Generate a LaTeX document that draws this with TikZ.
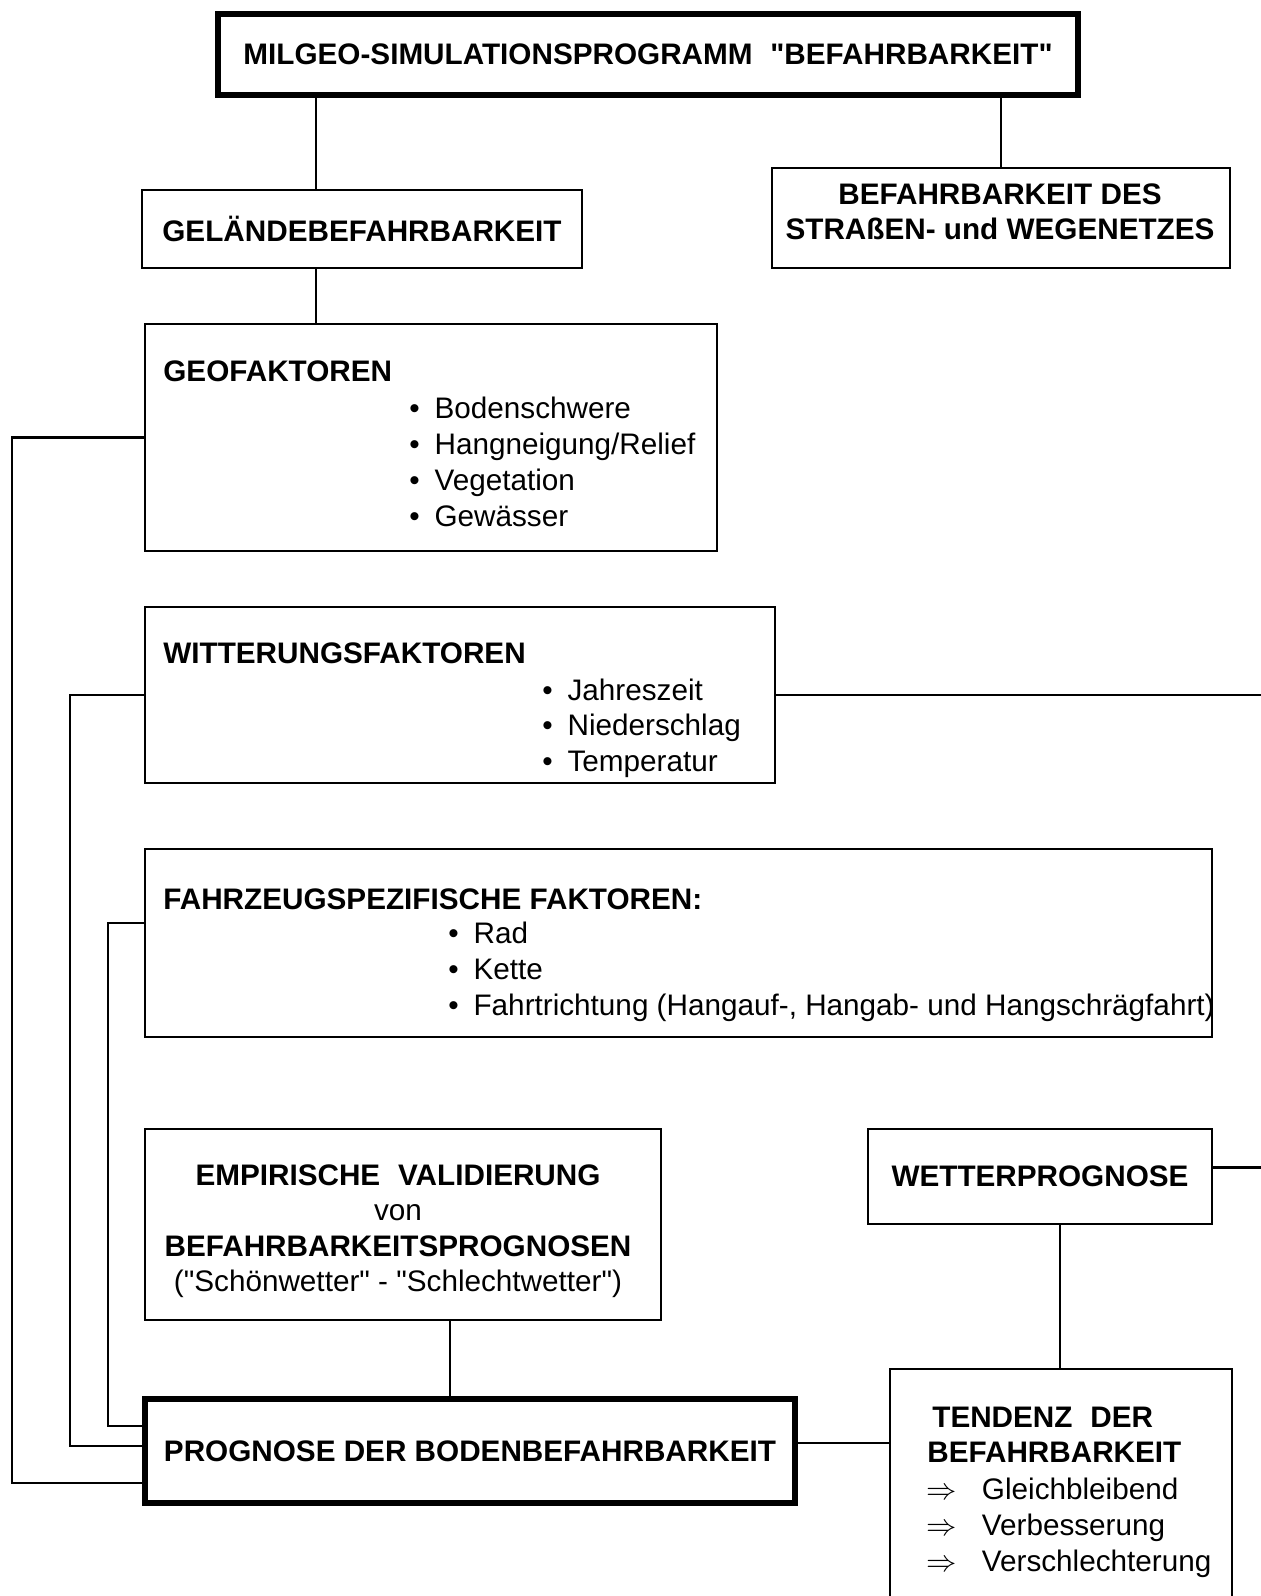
\documentclass[tikz,border=0pt]{standalone}
\usepackage{fontspec}
\setmainfont{Liberation Sans}[Ligatures=TeXOff]
\usetikzlibrary{positioning, calc}

\tikzset{
  box/.style={draw, line width=1.5pt, inner sep=0pt, align=center},
  boldbox/.style={box, line width=3.2pt},
  link/.style={line width=1.4pt},
  item/.style={anchor=base west, inner sep=0pt},
  boxtext/.style={inner sep=0pt, align=center},
}

\begin{document}
\begin{tikzpicture}[x=0.02cm, y=-0.02cm, font=\fontsize{16.9}{20.2}\selectfont]
    \useasboundingbox (0,0) rectangle (1261,1596);
    % boxes
    \node[boldbox, minimum width=17.2cm, minimum height=1.62cm] (top) at (648,54.5)
        {\bfseries MILGEO-SIMULATIONSPROGRAMM\hspace{0.6em}"BEFAHRBARKEIT"};
    \node[box, minimum width=8.8cm, minimum height=1.56cm] (gel) at (362,229)
        {\bfseries GELÄNDEBEFAHRBARKEIT};
    \node[box, minimum width=9.16cm, minimum height=2cm] (str) at (1001,218) {};
    \node[box, minimum width=11.44cm, minimum height=4.54cm] (geo) at (431,437.5) {};
    \node[box, minimum width=12.6cm, minimum height=3.52cm] (witt) at (460,695) {};
    \node[box, minimum width=21.34cm, minimum height=3.76cm] (fahr) at (678.5,943) {};
    \node[box, minimum width=10.32cm, minimum height=3.82cm] (emp) at (403,1224.5) {};
    \node[box, minimum width=6.88cm, minimum height=1.9cm] (wet) at (1040,1176.5)
        {\bfseries WETTERPROGNOSE};
    \node[boldbox, minimum width=13cm, minimum height=2.08cm] (prog) at (470,1451)
        {\bfseries PROGNOSE DER BODENBEFAHRBARKEIT};
    \node[box, minimum width=6.84cm, minimum height=5.42cm] (tend) at (1061,1504.5) {};

    % texts in the boxes
    \node[boxtext] (strT) at (1000,212)
        {\bfseries BEFAHRBARKEIT DES\\ \bfseries STRAßEN- und WEGENETZES};
    \node[boxtext] (empT) at (398,1231)
        {\bfseries EMPIRISCHE\hspace{0.6em}VALIDIERUNG\\ von\\ \bfseries BEFAHRBARKEITSPROGNOSEN\\ ("Schönwetter" - "Schlechtwetter")};
    \node[item] (geoT) at (163,381) {\bfseries GEOFAKTOREN};
    \foreach \t [count=\i] in {Bodenschwere, Hangneigung/Relief, Vegetation, Gewässer}
        \node[item] (geo\i) at (409,418+36*\i-36) {\textbullet\hspace{0.5em}\t};
    \node[item] (wittT) at (163,663) {\bfseries WITTERUNGSFAKTOREN};
    \foreach \t [count=\i] in {Jahreszeit, Niederschlag, Temperatur}
        \node[item] (witt\i) at (542,700+35.5*\i-35.5) {\textbullet\hspace{0.5em}\t};
    \node[item] (fahrT) at (163,909) {\bfseries FAHRZEUGSPEZIFISCHE FAKTOREN:};
    \foreach \t [count=\i] in {Rad, Kette, {Fahrtrichtung (Hangauf-, Hangab- und Hangschrägfahrt)}}
        \node[item] (fahr\i) at (448,943+36*\i-36) {\textbullet\hspace{0.5em}\t};
    \node[item] (tendT) at (932,1427) {\bfseries TENDENZ\hspace{0.6em}DER};
    \node[item] (tendU) at (927,1462) {\bfseries BEFAHRBARKEIT};
    \foreach \t [count=\i] in {Gleichbleibend, Verbesserung, Verschlechterung}
        \node[item] (tend\i) at (926,1499+36*\i-36) {$\Rightarrow$\hspace{0.85em}\t};

    % connectors
    \coordinate (xa) at (316,0);
    \coordinate (xb) at (1060,0);
    \coordinate (xc) at (450,0);
    \coordinate (la) at (12,0);
    \coordinate (lb) at (70,0);
    \coordinate (lc) at (108,0);
    \coordinate (edge) at (1275,0);
    \draw[link] (top.south -| xa) -- (gel.north -| xa);
    \draw[link] (top.south -| str.north) -- (str.north);
    \draw[link] (gel.south -| xa) -- (geo.north -| xa);
    \draw[link] (witt.east) -- (witt.east -| edge);
    \coordinate (wetout) at ($(wet.east)+(0,-9)$);
    \draw[link] (wetout) -- (wetout -| edge);
    \draw[link] (wet.south -| xb) -- (tend.north -| xb);
    \draw[link] (emp.south -| xc) -- (prog.north -| xc);
    \coordinate (progout) at ($(prog.east)+(0,-8)$);
    \draw[link] (progout) -- (progout -| tend.west);
    % feedback lines on the left
    \coordinate (pa) at ($(prog.west)+(0,32)$);
    \coordinate (pb) at ($(prog.west)+(0,-5)$);
    \coordinate (pc) at ($(prog.west)+(0,-25)$);
    \coordinate (fahrout) at ($(fahr.west)+(0,-20)$);
    \draw[link] (geo.west) -- (geo.west -| la) |- (pa);
    \draw[link] (witt.west) -- (witt.west -| lb) |- (pb);
    \draw[link] (fahrout) -- (fahrout -| lc) |- (pc);
\end{tikzpicture}
\end{document}
